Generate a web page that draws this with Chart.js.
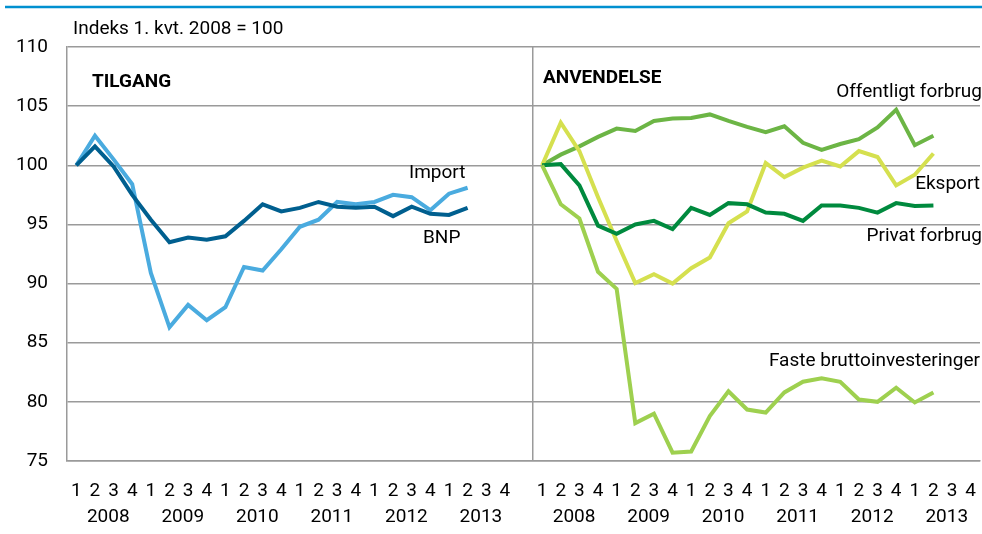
<!DOCTYPE html>
<html>
<head>
<meta charset="utf-8">
<script src="https://cdn.jsdelivr.net/npm/chart.js@4/dist/chart.umd.min.js"></script>
<style>
  html, body { margin: 0; padding: 0; background: #fff; }
  canvas { display: block; }
</style>
</head>
<body>
<canvas id="chart" width="982" height="534"></canvas>
<script>
// quarters 2008Q1 .. 2013Q4, data runs to 2013Q2
const quarters = ['1', '2', '3', '4'];
const years = ['2008', '2009', '2010', '2011', '2012', '2013'];

// TILGANG
const importData = [100, 102.5, 100.5, 98.4, 90.9, 86.3, 88.2, 86.9, 88.0, 91.4, 91.1, 92.9,
  94.8, 95.4, 96.9, 96.7, 96.9, 97.5, 97.3, 96.2, 97.6, 98.1];
const bnpData = [100, 101.6, 99.9, 97.5, 95.4, 93.5, 93.9, 93.7, 94.0, 95.3, 96.7, 96.1,
  96.4, 96.9, 96.5, 96.4, 96.5, 95.7, 96.5, 95.9, 95.8, 96.4];

// ANVENDELSE
const offentligtData = [100, 100.9, 101.6, 102.4, 103.1, 102.9, 103.75, 103.95, 104.0, 104.3, 103.75, 103.25,
  102.8, 103.3, 101.9, 101.3, 101.8, 102.2, 103.2, 104.7, 101.7, 102.5];
const eksportData = [100, 103.6, 101.2, 97.3, 93.6, 90.05, 90.8, 90.0, 91.3, 92.2, 95.1, 96.1,
  100.2, 99.0, 99.8, 100.4, 99.9, 101.2, 100.7, 98.3, 99.2, 101.0];
const privatData = [100, 100.1, 98.3, 94.9, 94.2, 95.0, 95.3, 94.6, 96.4, 95.8, 96.8, 96.7,
  96.0, 95.9, 95.3, 96.6, 96.6, 96.4, 96.0, 96.8, 96.55, 96.6];
const fasteData = [100, 96.7, 95.5, 91.0, 89.55, 78.2, 79.0, 75.7, 75.8, 78.8, 80.9, 79.35,
  79.1, 80.8, 81.7, 82.0, 81.7, 80.2, 80.0, 81.2, 79.95, 80.8];

const FONT = '"Liberation Sans Narrow", "Roboto", sans-serif';

// one category axis: 24 quarters left, one empty gap slot, 24 quarters right
const panelLabels = [];
years.forEach(function() { quarters.forEach(function(q) { panelLabels.push(q); }); });
const labels = panelLabels.concat([''], panelLabels);
const GAP = panelLabels.length + 1;

function left(arr) {
  return arr.concat(new Array(labels.length - arr.length).fill(null));
}
function right(arr) {
  const out = new Array(GAP).fill(null).concat(arr);
  return out.concat(new Array(labels.length - out.length).fill(null));
}

function line(label, data, color) {
  return {
    label: label,
    data: data,
    borderColor: color,
    backgroundColor: color,
    borderWidth: 4,
    pointRadius: 0,
    tension: 0,
    spanGaps: false,
    borderJoinStyle: 'miter'
  };
}

const textPlugin = {
  id: 'texts',
  afterDraw: function(chart) {
    const ctx = chart.ctx;
    const x = chart.scales.x;
    ctx.save();
    // blue rule at top
    ctx.strokeStyle = '#0090d0';
    ctx.lineWidth = 2.5;
    ctx.beginPath();
    ctx.moveTo(5, 7);
    ctx.lineTo(982, 7);
    ctx.stroke();

    ctx.fillStyle = '#000';
    ctx.textBaseline = 'middle';
    ctx.font = '19px ' + FONT;
    ctx.textAlign = 'left';
    ctx.fillText('Indeks 1. kvt. 2008 = 100', 73, 29);

    ctx.font = 'bold 19px ' + FONT;
    ctx.fillText('TILGANG', 92, 82);
    ctx.fillText('ANVENDELSE', 543, 78);

    ctx.font = '19px ' + FONT;
    ctx.fillText('Import', 409, 173);
    ctx.fillText('BNP', 423, 238);
    ctx.textAlign = 'right';
    ctx.fillText('Offentligt forbrug', 982, 92);
    ctx.fillText('Eksport', 980, 184);
    ctx.fillText('Privat forbrug', 982, 236);
    ctx.fillText('Faste bruttoinvesteringer', 980, 361);

    // year labels under the quarters
    ctx.textAlign = 'center';
    [0, GAP].forEach(function(start) {
      years.forEach(function(y, k) {
        const i = start + k * 4;
        const px = (x.getPixelForValue(i + 1) + x.getPixelForValue(i + 2)) / 2 + 4;
        ctx.fillText(y, px, 517);
      });
    });
    ctx.restore();
  }
};

new Chart(document.getElementById('chart').getContext('2d'), {
  type: 'line',
  data: {
    labels: labels,
    datasets: [
      line('BNP', left(bnpData), '#005f8f'),
      line('Import', left(importData), '#4aabdf'),
      line('Faste bruttoinvesteringer', right(fasteData), '#9ed04f'),
      line('Privat forbrug', right(privatData), '#008a3e'),
      line('Eksport', right(eksportData), '#d5e04f'),
      line('Offentligt forbrug', right(offentligtData), '#6cb545')
    ]
  },
  options: {
    responsive: false,
    animation: false,
    layout: { autoPadding: false, padding: { top: 47, right: 2, left: 0, bottom: 0 } },
    plugins: {
      legend: { display: false },
      tooltip: { enabled: false }
    },
    scales: {
      x: {
        type: 'category',
        offset: true,
        afterFit: function(scale) {
          scale.height = 73;
          scale.paddingLeft = 0;
          scale.paddingRight = 0;
        },
        grid: {
          offset: true,
          drawTicks: false,
          lineWidth: 1.5,
          color: function(c) { return c.index === GAP ? '#9a9a9a' : 'rgba(0,0,0,0)'; }
        },
        border: { display: true, color: '#9a9a9a', width: 1.5 },
        ticks: {
          autoSkip: false,
          maxRotation: 0,
          padding: 19,
          color: '#000',
          font: { family: FONT, size: 19 }
        }
      },
      y: {
        min: 75,
        max: 110,
        afterFit: function(scale) { scale.width = 67; },
        grid: { drawTicks: false, color: '#9a9a9a', lineWidth: 1.5 },
        border: { display: true, color: '#9a9a9a', width: 1.5 },
        ticks: {
          stepSize: 5,
          padding: 19,
          color: '#000',
          font: { family: FONT, size: 19 }
        }
      }
    }
  },
  plugins: [textPlugin]
});
</script>
</body>
</html>
